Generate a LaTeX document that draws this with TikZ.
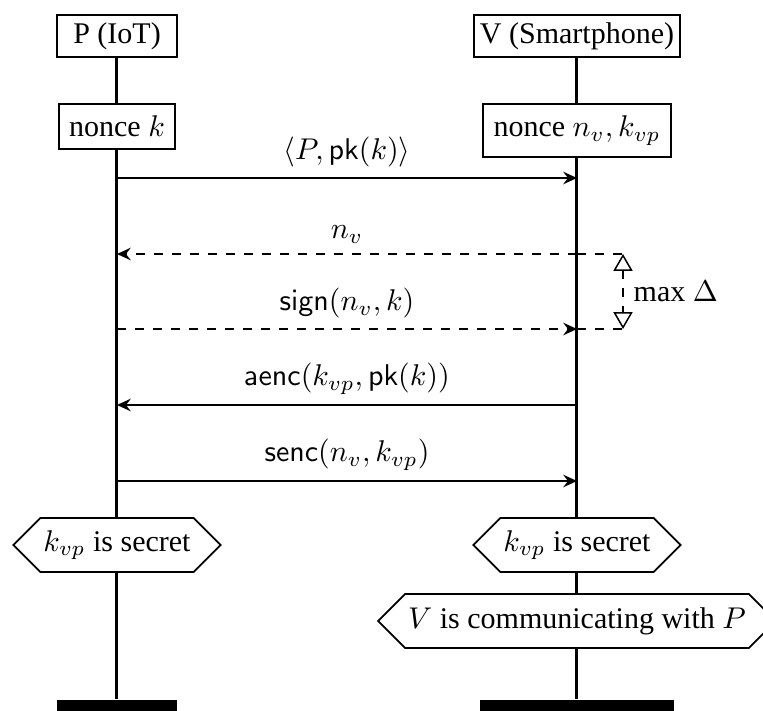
\documentclass[tikz,border=0pt]{standalone}
\usepackage{amsmath,amsfonts}
\usepackage[no-math]{fontspec}
\setmainfont{Liberation Serif}
\usepackage{tikz}
\usetikzlibrary{arrows,arrows.meta,shapes.symbols}

\begin{document}
\begin{tikzpicture}[x=0.3333pt,y=-0.3333pt,
  >={Stealth[length=4.6pt,width=4.2pt,inset=1.6pt]},
  head/.style={draw,line width=0.6pt,minimum width=40pt,
  minimum height=14pt,inner xsep=2pt,inner ysep=0pt},
  action/.style={draw,fill=white,line width=0.6pt,anchor=north,
  inner xsep=3.5pt,inner ysep=4pt},
  cond/.style={draw,fill=white,line width=0.6pt,shape=signal,
  signal to=east and west,signal pointer angle=90,
  minimum height=18pt,inner xsep=1pt,inner ysep=3pt},
  endbar/.style={fill=black,inner sep=0pt,minimum height=3.7pt},
  lifeline/.style={line width=1pt},
  msg/.style={->,line width=0.5pt}]

  \useasboundingbox (0,0) rectangle (763,711);

  \node[head] (P) at (117,36) {P (IoT)};
  \node[head] (V) at (577,36) {V (Smartphone)};
  \node[endbar,minimum width=40.3pt] (Pend) at (117,705.5) {};
  \node[endbar,minimum width=64.7pt] (Vend) at (577,705.5) {};
  \draw[lifeline] (P) -- (Pend);
  \draw[lifeline] (V) -- (Vend);

  \node[action] (Pk) at (117,103) {nonce $k$};
  \node[action] (Vn) at (577,103) {nonce $n_v, k_{vp}$};

  \foreach \lvl/\y in {1/178,2/254,3/329,4/405,5/481}{
    \coordinate (p\lvl) at (117,\y);
    \coordinate (v\lvl) at (577,\y);
  }
  \coordinate (m2) at (623,254);
  \coordinate (m3) at (623,329);

  \draw[msg] (p1) -- node[above] {$\langle P, \mathsf{pk}(k)\rangle$} (v1);
  \draw[msg,dashed] (v2) -- node[above] {$n_v$} (p2);
  \draw[msg,dashed] (p3) -- node[above] {$\mathsf{sign}(n_v, k)$} (v3);
  \draw[msg] (v4) -- node[above] {$\mathsf{aenc}(k_{vp}, \mathsf{pk}(k))$} (p4);
  \draw[msg] (p5) -- node[above] {$\mathsf{senc}(n_v, k_{vp})$} (v5);

  \draw[dashed,line width=0.5pt] (v2) -- (m2) (v3) -- (m3);
  \draw[dashed,line width=0.5pt,open triangle 60-open triangle 60]
    (m2) -- node[right] {max $\Delta$} (m3);

  \node[cond] (Psec) at (117,545) {$k_{vp}$ is secret};
  \node[cond] (Vsec) at (577,545) {$k_{vp}$ is secret};
  \node[cond] (Vcom) at (577,621) {$V$ is communicating with $P$};
\end{tikzpicture}
\end{document}
